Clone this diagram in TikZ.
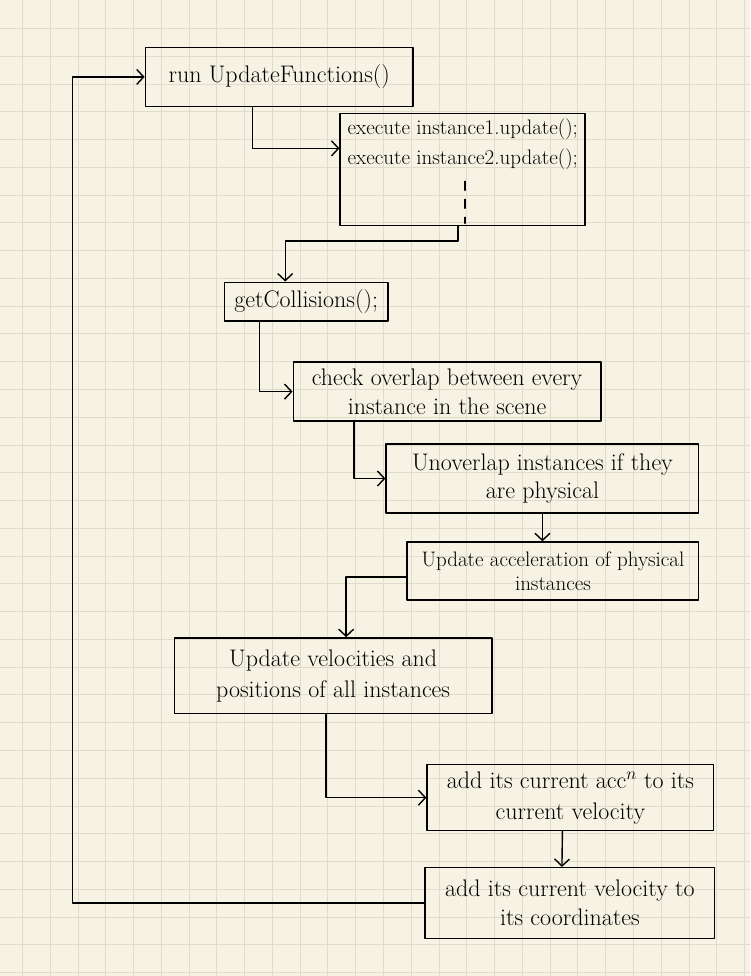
\documentclass[tikz,border=0pt]{standalone}
\usetikzlibrary{arrows.meta}
\definecolor{paper}{HTML}{F6F3E4}
\definecolor{gridline}{HTML}{DFDCCB}
\begin{document}
\begin{tikzpicture}[x=1pt,y=-1pt,>={Straight Barb[length=7pt,width=15pt]},line join=round,line cap=round,
    box/.style={draw,line width=1.4pt,rectangle,inner sep=0pt,align=center,font=\fontsize{24}{29}\selectfont},
    flow/.style={->,line width=1.4pt}]
  % squared paper
  \fill[paper] (0,0) rectangle (750,976);
  \foreach \i in {0,...,26}
    \draw[gridline,line width=1pt] ({22+27.8*\i},0) -- ({22+27.8*\i},976);
  \foreach \j in {0,...,34}
    \draw[gridline,line width=1pt] (0,{28+27.8*\j}) -- (750,{28+27.8*\j});
  \useasboundingbox (0,0) rectangle (750,976);

  \node[box,minimum width=268pt,minimum height=59pt] (run) at (279,76.5) {run UpdateFunctions()};
  \node[box,minimum width=245pt,minimum height=112pt] (exec) at (462.5,169) {};
  \node[anchor=north west,align=left,inner sep=0pt,font=\fontsize{21}{30}\selectfont] (execText)
    at ([xshift=8pt,yshift=-6pt]exec.north west) {execute instance1.update();\\execute instance2.update();};
  \draw[line width=1.4pt,dash pattern=on 9pt off 9pt] (465,181) -- (465,223);
  \node[box,minimum width=164pt,minimum height=39pt] (coll) at (306,301.5) {getCollisions();};
  \node[box,minimum width=308pt,minimum height=59pt] (check) at (447,391.5) {check overlap between every\\instance in the scene};
  \node[box,minimum width=313pt,minimum height=69pt] (unov) at (542.5,478.5) {Unoverlap instances if they\\are physical};
  \node[box,minimum width=292pt,minimum height=58pt,font=\fontsize{21}{24}\selectfont] (accel) at (553,571) {Update acceleration of physical\\instances};
  \node[box,minimum width=318pt,minimum height=76pt,font=\fontsize{24}{31}\selectfont] (vel) at (333,676) {Update velocities and\\positions of all instances};
  \node[box,minimum width=287pt,minimum height=66pt,font=\fontsize{24}{31}\selectfont] (acc) at (570.5,798) {add its current acc$^{n}$ to its\\current velocity};
  \node[box,minimum width=290pt,minimum height=71pt] (pos) at (570,903.5) {add its current velocity to\\its coordinates};
  \coordinate (loop) at (72,0);

  \draw[flow] ([xshift=-27pt]run.south) |- ([yshift=21pt]exec.west);
  \draw[flow] ([xshift=-4.5pt]exec.south) -- ++(0,15) -| ([xshift=-21pt]coll.north);
  \draw[flow] ([xshift=-47pt]coll.south) |- (check.west);
  \draw[flow] ([xshift=-93pt]check.south) |- (unov.west);
  \draw[flow] (unov.south) -- (unov.south |- accel.north);
  \draw[flow] ([yshift=-6pt]accel.west) -| ([xshift=13pt]vel.north);
  \draw[flow] ([xshift=-7pt]vel.south) |- (acc.west);
  \draw[flow] ([xshift=-8pt]acc.south) -- ([xshift=-8pt]pos.north);
  \draw[flow] (pos.west) -- (pos.west -| loop) |- (run.west);
\end{tikzpicture}
\end{document}
